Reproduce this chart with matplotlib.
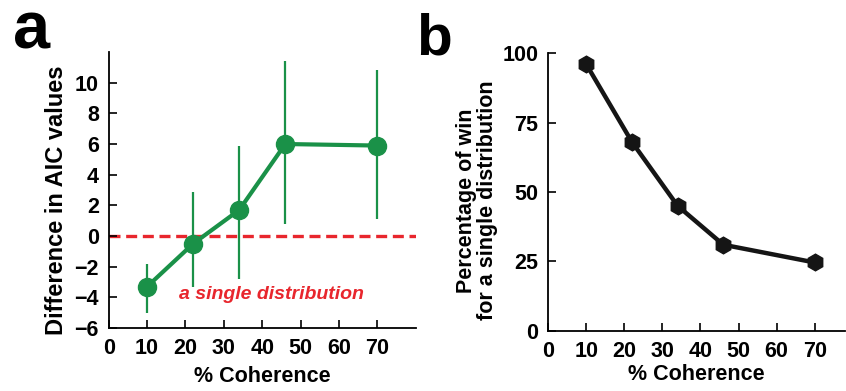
import matplotlib.pyplot as plt

plt.rcParams.update({
    'font.family': 'Liberation Sans',
    'font.weight': 'bold',
    'axes.labelweight': 'bold',
    'font.size': 14,
    'axes.linewidth': 1.3,
})

GREEN = '#1a9148'
RED = '#e8262d'
BLACK = '#151515'

# panel a: AIC difference vs coherence
COH_A = [10, 22, 34, 46, 70]
AIC_DIFF = [-3.3, -0.5, 1.7, 6.0, 5.9]
AIC_LO = [-5.0, -3.3, -2.8, 0.8, 1.1]
AIC_HI = [-1.85, 2.9, 5.9, 11.4, 10.8]

# panel b: percentage of wins for a single distribution
COH_B = [10, 22, 34, 46, 70]
WIN_PCT = [96, 68, 45, 31, 24.6]

XTICKS = [0, 10, 20, 30, 40, 50, 60, 70]

fig = plt.figure(figsize=(8.46, 3.91), dpi=100)

# --- panel a ---
ax = fig.add_axes([0.1285, 0.161, 0.363, 0.706])
err = [[m - lo for m, lo in zip(AIC_DIFF, AIC_LO)],
       [hi - m for m, hi in zip(AIC_DIFF, AIC_HI)]]
ax.errorbar(COH_A, AIC_DIFF, yerr=err, fmt='none', ecolor=GREEN, elinewidth=1.6, zorder=2)
ax.plot(COH_A, AIC_DIFF, '-o', color=GREEN, lw=3.0, markersize=13, zorder=3)
ax.axhline(0, color=RED, lw=2.4, ls=(0, (3.3, 1.7)), zorder=1)
ax.text(42.3, -3.8, 'a single distribution', color=RED, style='italic',
        fontsize=14, ha='center', va='center')
ax.set_xlim(0, 80)
ax.set_ylim(-6, 12)
ax.set_xticks(XTICKS)
ax.set_yticks(range(-6, 11, 2))
ax.set_xlabel('% Coherence', fontsize=15.5, labelpad=5)
ax.set_ylabel('Difference in AIC values', fontsize=17, labelpad=5)
ax.yaxis.label.set_y(0.462)
ax.spines[['top', 'right']].set_visible(False)
ax.tick_params(direction='in', length=6, width=1.2, pad=7, labelsize=15.5)
fig.text(0.015, 0.875, 'a', fontsize=48, fontweight='bold')

# --- panel b ---
bx = fig.add_axes([0.648, 0.154, 0.351, 0.71])
bx.plot(COH_B, WIN_PCT, '-h', color=BLACK, lw=3.2, markersize=12, zorder=3)
bx.set_xlim(0, 78)
bx.set_ylim(0, 100)
bx.set_xticks(XTICKS)
bx.set_yticks([0, 25, 50, 75, 100])
bx.set_xlabel('% Coherence', fontsize=15.5, labelpad=2)
bx.set_ylabel('Percentage of win\nfor a single distribution', fontsize=15.5, labelpad=3,
              linespacing=1.05)
bx.yaxis.label.set_y(0.47)
bx.spines[['top', 'right']].set_visible(False)
bx.tick_params(direction='in', length=6, width=1.2, pad=7, labelsize=15.5)
fig.text(0.492, 0.86, 'b', fontsize=42, fontweight='bold')

fig.savefig('out.png', dpi=100)
